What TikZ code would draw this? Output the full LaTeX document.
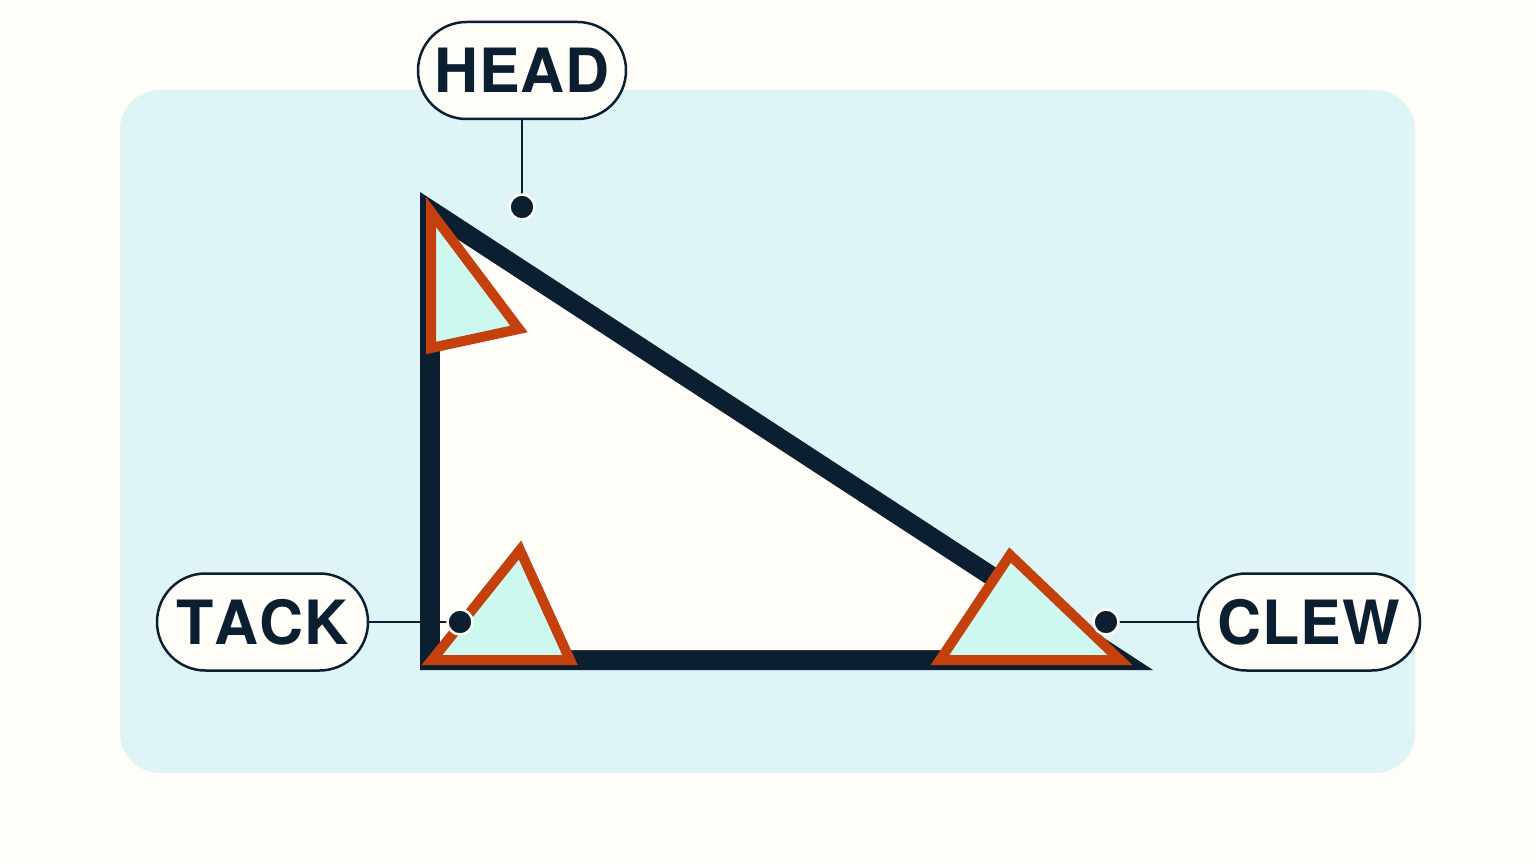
\documentclass[tikz,border=0pt]{standalone}
\usepackage{fontspec}
\setmainfont{TeX Gyre Heros}
\usetikzlibrary{shapes.misc}
\definecolor{bgc}{HTML}{FEFDF8}
\definecolor{panelc}{HTML}{DFF4F6}
\definecolor{navy}{HTML}{0C1F30}
\definecolor{rust}{HTML}{C4410E}
\definecolor{mint}{HTML}{CCF8EF}
\tikzset{
  pill/.style={rounded rectangle, draw=navy, line width=2.5pt, fill=bgc,
    text=navy, font=\fontsize{61}{61}\selectfont\bfseries, inner sep=0pt,
    minimum height=97pt},
  conn/.style={draw=navy, line width=2.5pt},
  dotpt/.style={circle, fill=navy, draw=bgc, line width=2.5pt, minimum size=25pt, inner sep=0pt},
  flag/.style={draw=rust, fill=mint, line width=10pt, line join=miter, miter limit=20},
}
\begin{document}
\begin{tikzpicture}[x=1pt,y=-1pt]
\fill[bgc] (0,0) rectangle (1536,864);
\useasboundingbox (0,0) rectangle (1536,864);
\fill[panelc, rounded corners=40pt] (120,90) rectangle (1415,773);
% sail
\fill[navy] (420,192) -- (420,670) -- (1153,670) -- cycle;
\fill[bgc] (440,228) -- (440,650) -- (1087,650) -- cycle;
% labels
\node[pill, minimum width=208pt] (head) at (522,70.5) {H\kern1pt E\kern1pt A\kern1pt D};
\node[pill, minimum width=211pt] (tack) at (262.5,622) {T\kern0pt A\kern1pt C\kern1pt K};
\node[pill, minimum width=222pt] (clew) at (1309,622) {C\kern1pt L\kern1pt E\kern1pt W};
% dots (coordinates)
\coordinate (hd) at (522,207);
\coordinate (td) at (460,622);
\coordinate (cd) at (1106,622);
\draw[conn] (head.south) -- (hd);
\draw[conn] (tack.east) -- (td);
\draw[conn] (clew.west) -- (cd);
% corner flags
\draw[flag] (431,212) -- (519,329) -- (431,348) -- cycle;
\draw[flag] (520,550) -- (570,660) -- (432,660) -- cycle;
\draw[flag] (1010,555) -- (1120,660) -- (940,660) -- cycle;
% dots
\node[dotpt] (hdot) at (hd) {};
\node[dotpt] (tdot) at (td) {};
\node[dotpt] (cdot) at (cd) {};
\end{tikzpicture}
\end{document}
